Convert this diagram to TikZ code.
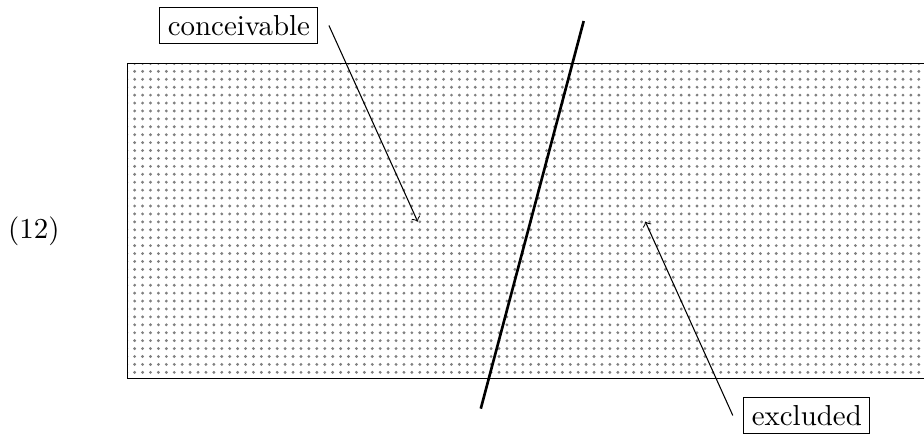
\documentclass[tikz,border=0pt,11pt]{standalone}
\usetikzlibrary{patterns}
\pgfdeclarepatternformonly{bigdots}{\pgfqpoint{-1pt}{-1pt}}{\pgfqpoint{1pt}{1pt}}{\pgfqpoint{3pt}{3pt}}%
  {\pgfpathcircle{\pgfqpoint{0pt}{0pt}}{0.6pt}\pgfusepath{fill}}
\begin{document}
\begin{tikzpicture}[
    labelbox/.style={draw,inner sep=3pt},
    pointer/.style={->}]
\useasboundingbox (0,0) rectangle (12.30,5.80);
\clip (0,0) rectangle (12.30,5.80);
\node (num) at (0.45,2.72) {(12)};
\draw[pattern=bigdots,pattern color=gray] (1.70,0.76) rectangle (13.0,4.95);
\coordinate (top) at (7.77,5.52);
\coordinate (bot) at (6.40,0.36);
\draw[line width=1pt] (top) -- (bot);
\node[labelbox] (conc) at (3.18,5.46) {conceivable};
\node[labelbox] (excl) at (10.74,0.27) {excluded};
\coordinate (in) at (5.56,2.85);
\coordinate (out) at (8.59,2.85);
\draw[pointer] ([xshift=4pt]conc.east) -- (in);
\draw[pointer] ([xshift=-4pt]excl.west) -- (out);
\end{tikzpicture}
\end{document}
